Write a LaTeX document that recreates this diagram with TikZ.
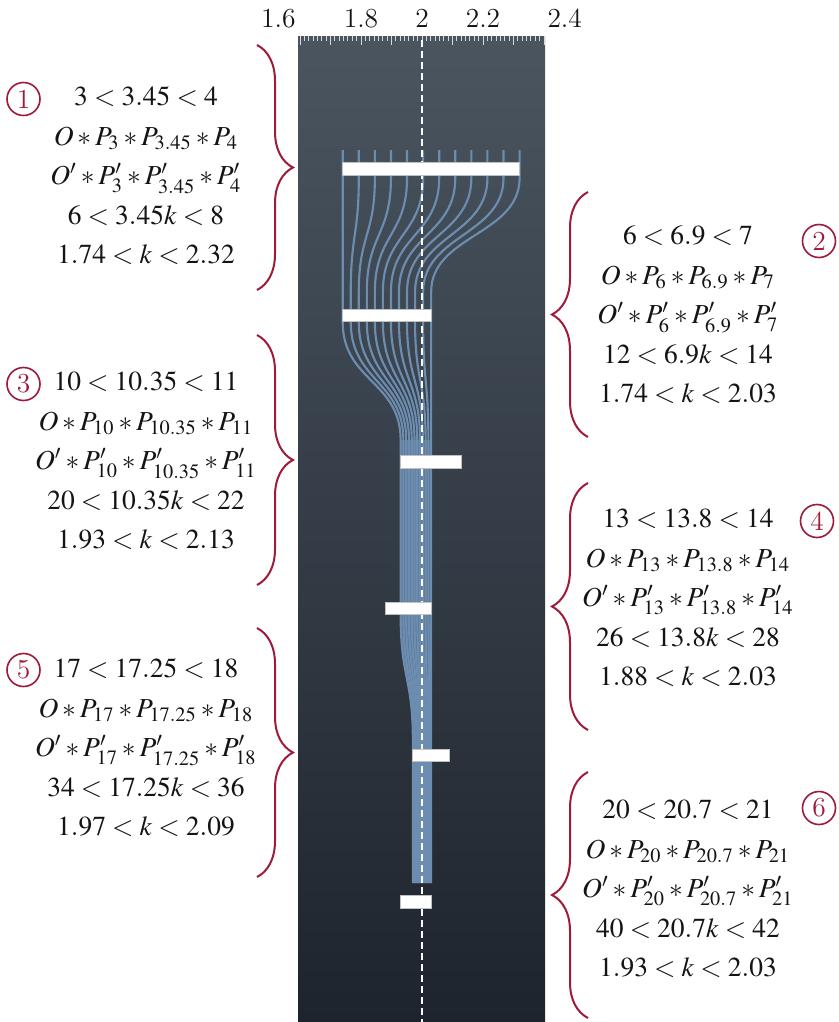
\documentclass[tikz,border=0pt]{standalone}
\usepackage{mathptmx}
\usepackage{tikz}
\usetikzlibrary{decorations.pathreplacing,positioning,calc}
\definecolor{ink}{RGB}{20,20,20}
\definecolor{claret}{RGB}{158,27,58}
\definecolor{slatetop}{RGB}{74,85,96}
\definecolor{slatebot}{RGB}{30,36,45}
\definecolor{strand}{RGB}{108,141,175}
\definecolor{strandfill}{RGB}{88,116,145}
\newcommand{\kx}[1]{422+305*(#1-2)}
\tikzset{
  steps/.style={align=center,font=\fontsize{11}{15.8}\selectfont,text=ink,inner sep=0pt},
  tag/.style={circle,draw=claret,line width=0.65pt,text=claret,minimum size=13.2pt,inner sep=0pt,font=\fontsize{11}{13}\selectfont},
  curly/.style={draw=claret,line width=0.8pt,decorate,decoration={brace,amplitude=14.4pt}},
  interval/.style={fill=white,draw=black!25,line width=0.3pt,inner sep=0pt,minimum height=5pt},
  scalelab/.style={font=\fontsize{11}{13}\selectfont,text=ink,inner sep=0pt},
  fibre/.style={strand,line width=0.85pt},
  midline/.style={white,line width=0.8pt,dash pattern=on 2.8pt off 1.6pt},
  tickmark/.style={black!15,line width=0.4pt},
}
\begin{document}
\begin{tikzpicture}[x=0.4pt,y=-0.4pt]
\useasboundingbox (0,0) rectangle (839,1022);
\shade[top color=slatetop,bottom color=slatebot] (298,36) rectangle (545,1022);
\foreach \t in {0,...,56}{
  \pgfmathsetmacro\tx{\kx{1.6+\t*0.8/56}}
  \pgfmathsetmacro\tl{mod(\t,7)==0 ? 9 : 5}
  \draw[tickmark] (\tx,36) -- (\tx,36+\tl);
}
\node[scalelab,anchor=base east] (s16) at (296,27) {1.6};
\node[scalelab,anchor=base] (s18) at ({\kx{1.8}},27) {1.8};
\node[scalelab,anchor=base] (s20) at ({\kx{2.0}},27) {2};
\node[scalelab,anchor=base] (s22) at ({\kx{2.2}},27) {2.2};
\node[scalelab,anchor=base west] (s24) at (547,27) {2.4};
\fill[strandfill] ({\kx{1.93}},440) -- ({\kx{1.93}},615) .. controls ({\kx{1.93}},678) and ({\kx{1.97}},678) .. ({\kx{1.97}},740)
  -- ({\kx{1.97}},883) -- ({\kx{2.03}},883) -- ({\kx{2.03}},440) -- cycle;
\foreach \i in {0,...,11}{
  \pgfmathsetmacro\xa{\kx{1.74+\i*0.58/11}}
  \pgfmathsetmacro\xb{\kx{1.74+\i*0.29/11}}
  \pgfmathsetmacro\xc{\kx{1.93+\i*0.10/11}}
  \pgfmathsetmacro\xd{\kx{1.97+\i*0.06/11}}
  \draw[fibre] (\xa,150) -- (\xa,178) .. controls (\xa,235) and (\xb,235) .. (\xb,292) -- (\xb,322)
    .. controls (\xb,381) and (\xc,381) .. (\xc,440) -- (\xc,615)
    .. controls (\xc,678) and (\xd,678) .. (\xd,740) -- (\xd,883);
}
\draw[midline] (422,40) -- (422,1022);
\node[interval,minimum width={122pt*(2.32-1.74)}] (bar1) at ({\kx{2.03}},169) {};
\node[interval,minimum width={122pt*(2.03-1.74)}] (bar2) at ({\kx{1.885}},315.5) {};
\node[interval,minimum width={122pt*(2.13-1.93)}] (bar3) at ({\kx{2.03}},462) {};
\node[interval,minimum width={122pt*(2.03-1.88)}] (bar4) at ({\kx{1.955}},608.5) {};
\node[interval,minimum width={122pt*(2.09-1.97)}] (bar5) at ({\kx{2.03}},755.5) {};
\node[interval,minimum width={122pt*(2.03-1.93)}] (bar6) at ({\kx{1.98}},902) {};
\node[steps] (r1) at (146,176) {$3<3.45<4$\\ $O*P_3*P_{3.45}*P_4$\\ $O'*P'_3*P'_{3.45}*P'_4$\\ $6<3.45k<8$\\ $1.74<k<2.32$};
\node[steps] (r2) at (688,315) {$6<6.9<7$\\ $O*P_6*P_{6.9}*P_7$\\ $O'*P'_6*P'_{6.9}*P'_7$\\ $12<6.9k<14$\\ $1.74<k<2.03$};
\node[steps] (r3) at (146,461) {$10<10.35<11$\\ $O*P_{10}*P_{10.35}*P_{11}$\\ $O'*P'_{10}*P'_{10.35}*P'_{11}$\\ $20<10.35k<22$\\ $1.93<k<2.13$};
\node[steps] (r4) at (688,598) {$13<13.8<14$\\ $O*P_{13}*P_{13.8}*P_{14}$\\ $O'*P'_{13}*P'_{13.8}*P'_{14}$\\ $26<13.8k<28$\\ $1.88<k<2.03$};
\node[steps] (r5) at (146,748) {$17<17.25<18$\\ $O*P_{17}*P_{17.25}*P_{18}$\\ $O'*P'_{17}*P'_{17.25}*P'_{18}$\\ $34<17.25k<36$\\ $1.97<k<2.09$};
\node[steps] (r6) at (688,889) {$20<20.7<21$\\ $O*P_{20}*P_{20.7}*P_{21}$\\ $O'*P'_{20}*P'_{20.7}*P'_{21}$\\ $40<20.7k<42$\\ $1.93<k<2.03$};
\node[tag] (n1) at (23.5,99) {1};
\node[tag] (n2) at (819,241) {2};
\node[tag] (n3) at (23.5,384) {3};
\node[tag] (n4) at (817,521) {4};
\node[tag] (n5) at (23.5,670) {5};
\node[tag] (n6) at (819,808) {6};
\draw[curly] (257,45) -- (257,290);
\draw[curly] (588,437) -- (588,192);
\draw[curly] (257,335) -- (257,585);
\draw[curly] (588,730) -- (588,483);
\draw[curly] (257,628) -- (257,877);
\draw[curly] (588,1018) -- (588,772);
\end{tikzpicture}
\end{document}
